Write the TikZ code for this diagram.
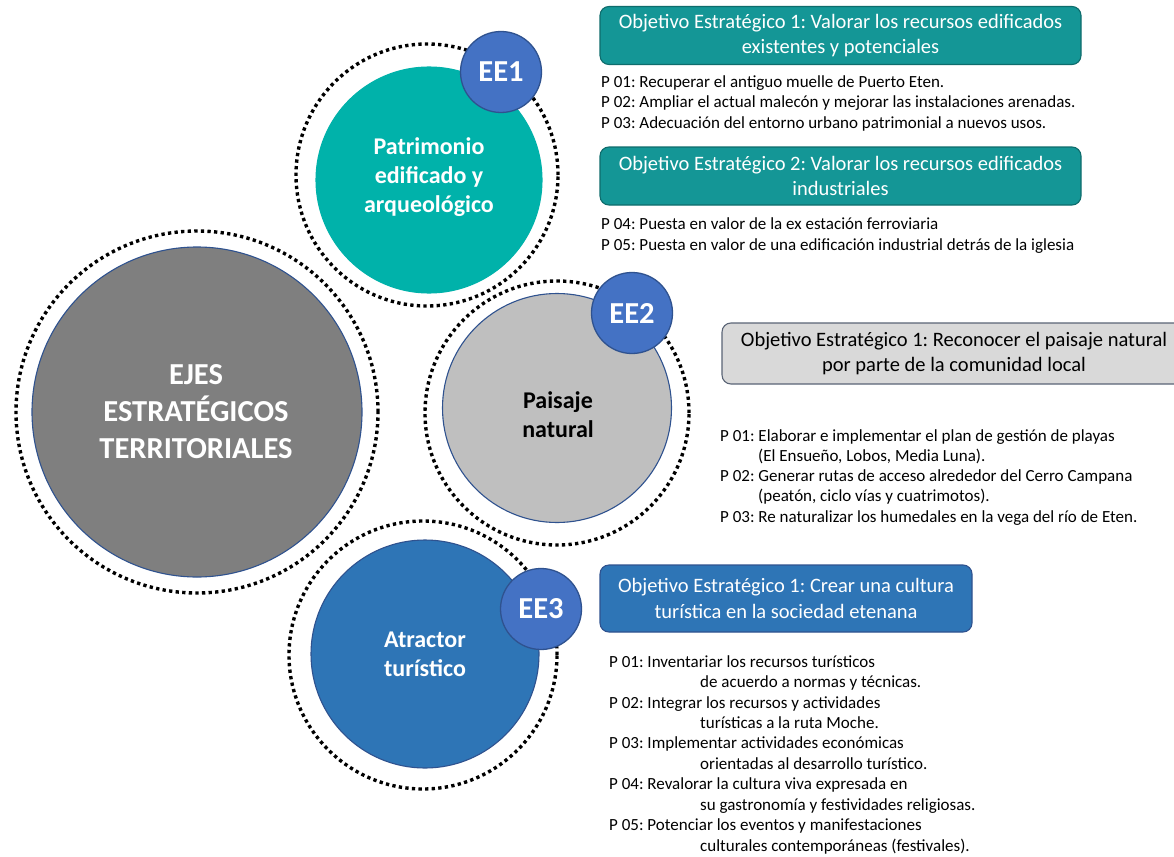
\documentclass[tikz,border=0pt]{standalone}
\usepackage{fontspec}
\setmainfont{Carlito}
\frenchspacing
\definecolor{bigGray}{RGB}{127,127,127}
\definecolor{edgeBlue}{RGB}{47,82,143}
\definecolor{tealC}{RGB}{0,178,170}
\definecolor{tealBox}{RGB}{20,150,150}
\definecolor{tealEdge}{RGB}{14,108,108}
\definecolor{badgeBlue}{RGB}{68,114,196}
\definecolor{lightGray}{RGB}{191,191,191}
\definecolor{boxGray}{RGB}{217,217,217}
\definecolor{grayEdge}{RGB}{90,100,118}
\definecolor{midBlue}{RGB}{46,117,182}
\begin{document}
\begin{tikzpicture}[x=1pt,y=-1pt,
  ring/.style={circle, draw=black, line width=3.4pt, dash pattern=on 3.3pt off 3.3pt, inner sep=0pt, fill=none},
  disc/.style={circle, draw=edgeBlue, line width=1.1pt, inner sep=0pt},
  badge/.style={circle, fill=badgeBlue, draw=edgeBlue, line width=1.3pt, inner sep=0pt, minimum size=81pt, text=white, font=\fontsize{30.5}{32}\selectfont\bfseries},
  disctext/.style={align=center, inner sep=0pt, font=\fontsize{24}{29}\selectfont\bfseries},
  objbox/.style={rounded corners=9pt, line width=1.1pt, align=center, inner sep=0pt, font=\fontsize{20.5}{25.5}\selectfont},
  item/.style={anchor=base west, inner sep=0pt, font=\fontsize{17}{20}\selectfont}
]
\useasboundingbox[fill=white] (0,0) rectangle (1174,856);

% dotted rings
\node (r0) [ring, minimum size=362pt] at (197,412) {};
\node (r1) [ring, minimum size=262pt] at (427,175) {};
\node (r2) [ring, minimum size=264pt] at (557,413) {};
\node (r3) [ring, minimum size=268pt] at (423,655) {};

% main discs
\node (c0) [disc, fill=bigGray, minimum size=330pt] at (197,412) {};
\node (t0) [disctext, text=white, font=\fontsize{30.5}{37}\selectfont\bfseries] at (196,412) {EJES\\ESTRATÉGICOS\\TERRITORIALES};

\node (c1) [disc, draw=tealC, fill=tealC, minimum size=226pt] at (429,180) {};
\node (t1) [disctext, text=white] at (429,177) {Patrimonio\\edificado y\\arqueológico};

\node (c2) [disc, fill=lightGray, minimum size=229pt] at (557,408) {};
\node (t2) [disctext, text=black] at (558,414.5) {Paisaje\\natural};

\node (c3) [disc, fill=midBlue, minimum size=228pt] at (425,654) {};
\node (t3) [disctext, text=white] at (425,654) {Atractor\\turístico};

% badges
\node (b1) [badge] at (501,72) {EE1};
\node (b2) [badge] at (632,313) {EE2};
\node (b3) [badge] at (541,609) {EE3};

% objective boxes
\node (o1) [objbox, fill=tealBox, draw=tealEdge, text=white, minimum width=481pt, minimum height=58pt] at (840.5,35.5)
  {Objetivo Estratégico 1: Valorar los recursos edificados\\existentes y potenciales};
\node (o2) [objbox, fill=tealBox, draw=tealEdge, text=white, minimum width=481pt, minimum height=58pt] at (840.5,176)
  {Objetivo Estratégico 2: Valorar los recursos edificados\\industriales};
\node (o3) [objbox, fill=boxGray, draw=grayEdge, text=black, minimum width=464pt, minimum height=61pt] at (954,353.5)
  {Objetivo Estratégico 1: Reconocer el paisaje natural\\por parte de la comunidad local};
\node (o4) [objbox, fill=midBlue, draw=edgeBlue, text=white, minimum width=372pt, minimum height=67pt] at (786,598.5)
  {Objetivo Estratégico 1: Crear una cultura\\turística en la sociedad etenana};

% EE1 projects
\node (p11) [item] at (601,87.5) {P 01: Recuperar el antiguo muelle de Puerto Eten.};
\node (p12) [item] at (601,108) {P 02: Ampliar el actual malecón y mejorar las instalaciones arenadas.};
\node (p13) [item] at (601,128.3) {P 03: Adecuación del entorno urbano patrimonial a nuevos usos.};
\node (p14) [item] at (601,229.5) {P 04: Puesta en valor de la ex estación ferroviaria};
\node (p15) [item] at (601,250) {P 05: Puesta en valor de una edificación industrial detrás de la iglesia};

% EE2 projects
\node (p21) [item] at (720,441) {P 01: Elaborar e implementar el plan de gestión de playas};
\node (p21b) [item] at (758,461) {(El Ensueño, Lobos, Media Luna).};
\node (p22) [item] at (720,481.5) {P 02: Generar rutas de acceso alrededor del Cerro Campana};
\node (p22b) [item] at (758,501.5) {(peatón, ciclo vías y cuatrimotos).};
\node (p23) [item] at (720,522) {P 03: Re naturalizar los humedales en la vega del río de Eten.};

% EE3 projects
\node (p31) [item] at (609,667) {P 01: Inventariar los recursos turísticos};
\node (p31b) [item] at (700,687.5) {de acuerdo a normas y técnicas.};
\node (p32) [item] at (609,708) {P 02: Integrar los recursos y actividades};
\node (p32b) [item] at (700,728) {turísticas a la ruta Moche.};
\node (p33) [item] at (609,748.5) {P 03: Implementar actividades económicas};
\node (p33b) [item] at (700,769) {orientadas al desarrollo turístico.};
\node (p34) [item] at (609,789.5) {P 04: Revalorar la cultura viva expresada en};
\node (p34b) [item] at (700,810) {su gastronomía y festividades religiosas.};
\node (p35) [item] at (609,830.5) {P 05: Potenciar los eventos y manifestaciones};
\node (p35b) [item] at (700,851) {culturales contemporáneas (festivales).};
\end{tikzpicture}
\end{document}
